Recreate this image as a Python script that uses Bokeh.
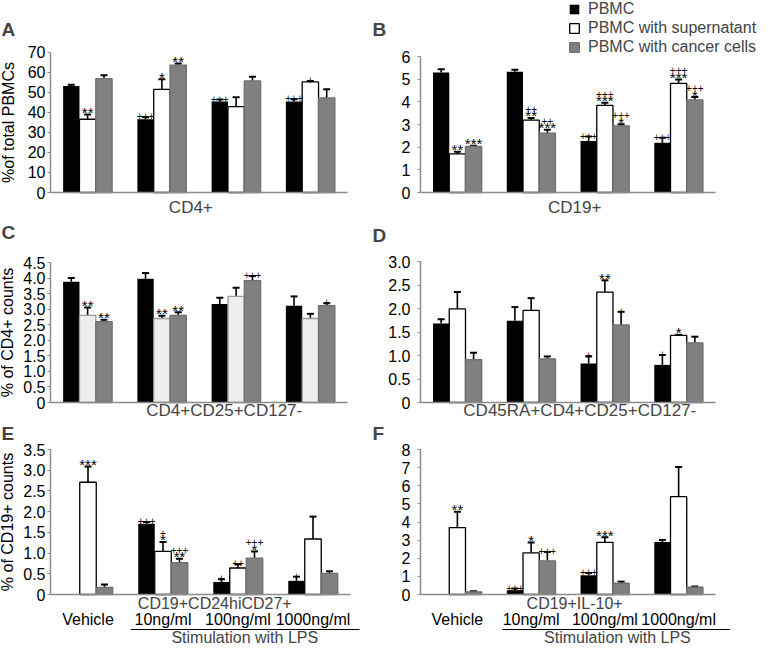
from bokeh.plotting import figure
from bokeh.models import (Range1d, FixedTicker, Whisker, TeeHead,
                          ColumnDataSource, Label, Legend, LegendItem)
from bokeh.layouts import column, row
from bokeh.embed import file_html
from bokeh.resources import INLINE
from bokeh.core.properties import value

FONT = "Liberation Sans"
SERIES = ["PBMC", "PBMC with supernatant", "PBMC with cancer cells"]

# ---------------- Panel A : CD4+ (% of total PBMCs)
A_pbmc = [53.1, 36.5, 45.3, 45.3]
A_pbmc_err = [0.6, 1.0, 1.0, 1.1]
A_sup = [36.5, 51.4, 42.8, 55.1]
A_sup_err = [2.3, 5.0, 4.6, 0.5]
A_can = [56.7, 63.5, 55.6, 47.1]
A_can_err = [1.7, 0.8, 2.1, 4.3]
A_stars = [["", "", "", ""], ["**", "*", "", ""], ["", "**", "", ""]]
A_plus = [["", "+++", "+++", "+++"], ["", "", "", "+"], ["", "", "", ""]]
A_yticks = [0, 10, 20, 30, 40, 50, 60, 70]
A_ylabels = ["0", "10", "20", "30", "40", "50", "60", "70"]

# ---------------- Panel B : CD19+
B_pbmc = [5.29, 5.33, 2.27, 2.19]
B_pbmc_err = [0.15, 0.08, 0.2, 0.23]
B_sup = [1.7, 3.19, 3.84, 4.81]
B_sup_err = [0.1, 0.1, 0.12, 0.18]
B_can = [2.03, 2.62, 2.94, 4.08]
B_can_err = [0.03, 0.15, 0.07, 0.13]
B_stars = [["", "", "", ""], ["**", "**", "***", "***"], ["***", "***", "*", "*"]]
B_plus = [["", "", "+++", "+++"], ["", "++", "+++", "+++"], ["", "++", "+++", "+++"]]
B_yticks = [0, 1, 2, 3, 4, 5, 6]
B_ylabels = ["0", "1", "2", "3", "4", "5", "6"]

# ---------------- Panel C : CD4+CD25+CD127-
C_pbmc = [3.88, 3.98, 3.17, 3.11]
C_pbmc_err = [0.12, 0.18, 0.2, 0.3]
C_sup = [2.8, 2.7, 3.41, 2.7]
C_sup_err = [0.25, 0.09, 0.28, 0.15]
C_can = [2.6, 2.8, 3.92, 3.11]
C_can_err = [0.06, 0.1, 0.15, 0.08]
C_stars = [["", "", "", ""], ["**", "**", "", ""], ["**", "**", "", ""]]
C_plus = [["", "", "", ""], ["", "", "", ""], ["", "", "+++", "+"]]
C_yticks = [0, 0.5, 1.0, 1.5, 2.0, 2.5, 3.0, 3.5, 4.0, 4.5]
C_ylabels = ["0", "0.5", "1.0", "1.5", "2.0", "2.5", "3.0", "3.5", "4.0", "4.5"]

# ---------------- Panel D : CD45RA+CD4+CD25+CD127-
D_pbmc = [1.68, 1.74, 0.83, 0.8]
D_pbmc_err = [0.09, 0.29, 0.15, 0.21]
D_sup = [1.99, 1.96, 2.35, 1.43]
D_sup_err = [0.36, 0.26, 0.25, 0.01]
D_can = [0.91, 0.93, 1.65, 1.27]
D_can_err = [0.15, 0.05, 0.28, 0.13]
D_stars = [["", "", "", ""], ["", "", "**", "*"], ["", "", "", ""]]
D_plus = [["", "", "+", "+"], ["", "", "", ""], ["", "", "+", ""]]
D_yticks = [0, 0.5, 1.0, 1.5, 2.0, 2.5, 3.0]
D_ylabels = ["0", "0.5", "1.0", "1.5", "2.0", "2.5", "3.0"]

# ---------------- Panel E : CD19+CD24hiCD27+
E_groups = ["Vehicle", "10ng/ml", "100ng/ml", "1000ng/ml"]
E_pbmc = [0.0, 1.71, 0.3, 0.33]
E_pbmc_err = [0.0, 0.04, 0.07, 0.1]
E_sup = [2.71, 1.04, 0.64, 1.34]
E_sup_err = [0.38, 0.23, 0.09, 0.54]
E_can = [0.17, 0.77, 0.88, 0.51]
E_can_err = [0.07, 0.09, 0.16, 0.05]
E_stars = [["", "", "", ""], ["***", "*", "", ""], ["", "**", "*", ""]]
E_plus = [["", "+++", "+", "+"], ["", "+", "++", ""], ["", "+++", "+++", ""]]
E_yticks = [0, 0.5, 1.0, 1.5, 2.0, 2.5, 3.0, 3.5]
E_ylabels = ["0", "0.5", "1.0", "1.5", "2.0", "2.5", "3.0", "3.5"]

# ---------------- Panel F : CD19+IL-10+
F_groups = ["Vehicle", "10ng/ml", "100ng/ml", "1000ng/ml"]
F_pbmc = [0.03, 0.24, 1.06, 2.9]
F_pbmc_err = [0.0, 0.09, 0.13, 0.11]
F_sup = [3.69, 2.3, 2.88, 5.4]
F_sup_err = [0.87, 0.57, 0.28, 1.64]
F_can = [0.15, 1.86, 0.62, 0.4]
F_can_err = [0.03, 0.49, 0.09, 0.04]
F_stars = [["", "", "", ""], ["**", "*", "***", ""], ["", "", "", ""]]
F_plus = [["", "+++", "+++", ""], ["", "", "", ""], ["", "+++", "", ""]]
F_yticks = [0, 1, 2, 3, 4, 5, 6, 7, 8]
F_ylabels = ["0", "1", "2", "3", "4", "5", "6", "7", "8"]

STIM = "Stimulation with LPS"
AXIS_GREY = "#8c8c8c"
OFFSETS = [-0.22, 0.0, 0.22]
BAR_W = 0.22
GROUP_X = [0.5, 1.5, 2.5, 3.5]


class Panel:
    """One panel drawn in a figure whose frame fills the whole figure.
    box = (X0, Y0, W, H) in window pixels; anchors give where x=0, x=4,
    y=0 and y=ymax fall in window pixels."""

    def __init__(self, box, ax, ay, ymax):
        X0, Y0, W, H = box
        px0, px4 = ax
        py0, pytop = ay
        ux = (px4 - px0) / 4.0
        self.uy = (py0 - pytop) / ymax
        self.X0, self.Y0, self.W, self.H = box
        self.py0 = py0
        self.p = figure(width=W, height=H, output_backend="svg", toolbar_location=None,
                        x_range=Range1d((X0 - px0) / ux, (X0 + W - px0) / ux),
                        y_range=Range1d(-(Y0 + H - py0) / self.uy, (py0 - Y0) / self.uy),
                        min_border=0)
        self.p.title_location = None
        self.p.outline_line_color = None
        self.p.xgrid.visible = False
        self.p.ygrid.visible = False

    def sy(self, wy):
        """window y -> screen y measured up from the frame bottom"""
        return self.Y0 + self.H - wy

    def sx(self, wx):
        return wx - self.X0

    def below(self, wy):
        """window y below the x axis -> data y"""
        return -(wy - self.py0) / self.uy

    def label(self, text, x, wy, size="16px", x_units="data", bold=False, align="center"):
        self.p.add_layout(Label(x=x, y=self.sy(wy), x_units=x_units, y_units="screen",
                                text=text, text_font=FONT, text_font_size=size,
                                text_font_style="bold" if bold else "normal",
                                text_align=align, text_baseline="middle"))


def build(panel, means, errs, stars, pluses, yticks, ylabels, tick_standoff=2,
          ylabel=None, ylabel_standoff=4, mid_fill="white", mid_line="black"):
    p = panel.p
    fills = ["black", mid_fill, "#808080"]
    lines = [None, mid_line, "#6f6f6f"]
    renderers = []
    for s in range(3):
        x = [g + OFFSETS[s] for g in GROUP_X]
        upper = [m + e for m, e in zip(means[s], errs[s])]
        src = ColumnDataSource(dict(
            x=x, top=means[s], upper=upper, star=stars[s], plus=pluses[s],
            plus_off=[-9 if st else -1 for st in stars[s]]))
        r = p.vbar(x="x", top="top", bottom=0, width=BAR_W, source=src,
                   fill_color=fills[s], line_color=lines[s], line_width=1.3)
        renderers.append(r)
        keep = [i for i in range(4) if errs[s][i] > 0]
        wsrc = ColumnDataSource(dict(x=[x[i] for i in keep],
                                     top=[means[s][i] for i in keep],
                                     upper=[upper[i] for i in keep]))
        p.add_layout(Whisker(source=wsrc, base="x", lower="top", upper="upper",
                             dimension="height", line_color="black", line_width=1.6,
                             upper_head=TeeHead(size=7, line_color="black", line_width=2),
                             lower_head=None))
        p.text(x="x", y="upper", text="star", source=src, text_font=value(FONT),
               text_font_size="15px", text_align="center", text_baseline="alphabetic",
               y_offset=-2, text_color="black")
        p.text(x="x", y="upper", text="plus", source=src, text_font=value(FONT),
               text_font_size="10px", text_align="center", text_baseline="alphabetic",
               y_offset="plus_off", text_color="black")

    ya = p.yaxis[0]
    ya.fixed_location = 0
    ya.bounds = (0, yticks[-1])
    ya.ticker = FixedTicker(ticks=yticks)
    ya.major_label_overrides = dict(zip(yticks, ylabels))
    ya.axis_line_color = AXIS_GREY
    ya.axis_line_width = 1.5
    ya.major_tick_line_color = AXIS_GREY
    ya.major_tick_out = 3
    ya.major_tick_in = 0
    ya.minor_tick_line_color = None
    ya.major_label_standoff = tick_standoff
    ya.major_label_text_font = FONT
    ya.major_label_text_font_size = "16px"
    ya.major_label_text_color = "black"
    if ylabel:
        ya.axis_label = ylabel
        ya.axis_label_text_font = FONT
        ya.axis_label_text_font_size = "16px"
        ya.axis_label_text_font_style = "normal"
        ya.axis_label_text_color = "black"
        ya.axis_label_standoff = ylabel_standoff

    xa = p.xaxis[0]
    xa.fixed_location = 0
    xa.bounds = (0, 4)
    xa.ticker = FixedTicker(ticks=[])
    xa.axis_line_color = AXIS_GREY
    xa.axis_line_width = 1.5
    xa.major_tick_out = 0
    xa.major_tick_in = 0
    xa.minor_tick_line_color = None
    return renderers


# ---------------- row 1 (window y 8..228)
A = Panel((8, 8, 370, 220), (58, 355), (200, 59.5), 70)
build(A, [A_pbmc, A_sup, A_can], [A_pbmc_err, A_sup_err, A_can_err],
      A_stars, A_plus, A_yticks, A_ylabels, ylabel="%of total PBMCs", ylabel_standoff=8)
A.label("A", A.sx(9), 37, size="19px", x_units="screen", bold=True, align="left")
A.label("CD4+", 1.89, 215, size="17px")

B = Panel((378, 8, 392, 220), (428, 723), (200, 64), 6)
rB = build(B, [B_pbmc, B_sup, B_can], [B_pbmc_err, B_sup_err, B_can_err],
           B_stars, B_plus, B_yticks, B_ylabels, tick_standoff=7)
B.label("B", B.sx(380), 37, size="19px", x_units="screen", bold=True, align="left")
B.label("CD19+", 2.09, 215, size="17px")
legend = Legend(items=[LegendItem(label=SERIES[i], renderers=[rB[i]]) for i in range(3)],
                location=(B.sx(576), B.sy(8) - 56), orientation="vertical",
                border_line_color=None, background_fill_alpha=0, padding=0, spacing=1,
                margin=0, glyph_width=12, glyph_height=12, label_height=18,
                label_standoff=8, label_text_font=FONT, label_text_font_size="16px")
B.p.add_layout(legend)

# ---------------- row 2 (window y 228..430)
C = Panel((8, 228, 370, 202), (58, 355), (410, 270), 4.5)
build(C, [C_pbmc, C_sup, C_can], [C_pbmc_err, C_sup_err, C_can_err],
      C_stars, C_plus, C_yticks, C_ylabels, ylabel="% of CD4+ counts", ylabel_standoff=4,
      mid_fill="#eeeeee", mid_line="#9a9a9a")
C.label("C", C.sx(9), 240, size="19px", x_units="screen", bold=True, align="left")
C.label("CD4+CD25+CD127-", 2.34, 418, size="17px")

D = Panel((378, 228, 392, 202), (428, 723), (410, 269), 3.0)
build(D, [D_pbmc, D_sup, D_can], [D_pbmc_err, D_sup_err, D_can_err],
      D_stars, D_plus, D_yticks, D_ylabels, tick_standoff=7)
D.label("D", D.sx(380), 243, size="19px", x_units="screen", bold=True, align="left")
D.label("CD45RA+CD4+CD25+CD127-", 2.16, 418, size="17px")

# ---------------- row 3 (window y 430..655)
E = Panel((8, 430, 370, 225), (58, 358), (602, 457), 3.5)
build(E, [E_pbmc, E_sup, E_can], [E_pbmc_err, E_sup_err, E_can_err],
      E_stars, E_plus, E_yticks, E_ylabels, ylabel="% of CD19+ counts", ylabel_standoff=4)
E.label("E", E.sx(9), 441, size="19px", x_units="screen", bold=True, align="left")
E.label("CD19+CD24hiCD27+", 2.19, 611)
E.p.text(x=GROUP_X, y=[0] * 4, text=E_groups, y_offset=25, text_font=value(FONT),
         text_font_size="16px", text_align="center", text_baseline="middle")
E.p.segment(x0=[1.07], x1=[4.12], y0=[E.below(637)], y1=[E.below(637)],
            line_color="black", line_width=1.2)
E.label(STIM, 2.59, 645)

F = Panel((378, 430, 392, 225), (428, 723), (602, 457), 8)
build(F, [F_pbmc, F_sup, F_can], [F_pbmc_err, F_sup_err, F_can_err],
      F_stars, F_plus, F_yticks, F_ylabels, tick_standoff=7)
F.label("F", F.sx(380), 441, size="19px", x_units="screen", bold=True, align="left")
F.label("CD19+IL-10+", 2.09, 611)
F.p.text(x=GROUP_X, y=[0] * 4, text=F_groups, y_offset=25, text_font=value(FONT),
         text_font_size="16px", text_align="center", text_baseline="middle")
F.p.segment(x0=[1.11], x1=[4.2], y0=[F.below(637)], y1=[F.below(637)],
            line_color="black", line_width=1.2)
F.label(STIM, 2.67, 645)

layout = column(row(A.p, B.p), row(C.p, D.p), row(E.p, F.p))
open("out.html", "w").write(file_html(layout, INLINE))
